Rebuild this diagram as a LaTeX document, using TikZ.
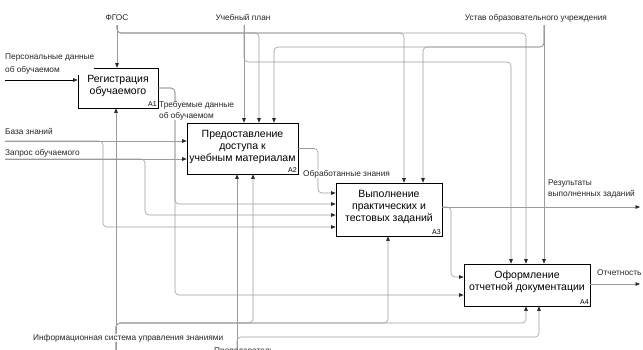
\documentclass[tikz,border=0pt]{standalone}
\usepackage{fontspec}
\setmainfont{Liberation Sans}
\usetikzlibrary{arrows.meta,calc}
\definecolor{lineg}{RGB}{155,155,155}
\definecolor{tipg}{RGB}{40,40,40}
\begin{document}
\begin{tikzpicture}[x=1pt,y=-1pt,
  box/.style={draw=black, line width=0.7pt, fill=white, inner sep=0pt},
  btext/.style={font=\fontsize{10.5}{12}\selectfont, align=center, inner sep=0pt},
  num/.style={font=\fontsize{7}{8}\selectfont, anchor=south east, inner sep=1.5pt},
  lab/.style={font=\fontsize{8.3}{10}\selectfont, inner sep=0pt, text=black!85, fill=white},
  flow/.style={draw=lineg, line width=0.6pt, rounded corners=4pt, -{Triangle[length=4.5pt,width=3.6pt,color=tipg]}},
  flowk/.style={flow, draw=black}]
\useasboundingbox (0,0) rectangle (643,349);
\clip (0,0) rectangle (643,349);

% boxes (positions)
\node[box, minimum width=80pt, minimum height=40pt] (A1) at (118,88) {};
\node[box, minimum width=111pt, minimum height=51pt] (A2) at (242.5,148.5) {};
\node[box, minimum width=106pt, minimum height=53pt] (A3) at (389,209.5) {};
\node[box, minimum width=126pt, minimum height=42pt] (A4) at (527,285) {};

% coordinates of free ends and bends
\coordinate (fgS) at (117,25);
\coordinate (g2) at (259,33);
\coordinate (g3) at (404,33);
\coordinate (g4) at (526,33);
\coordinate (upS) at (244,25);
\coordinate (p4) at (511,62);
\coordinate (usS) at (544,25);
\coordinate (u2) at (274,47);
\coordinate (u3) at (423,47);
\coordinate (pdS) at (5,80);
\coordinate (bzS) at (5,141);
\coordinate (bz3) at (103,227);
\coordinate (zpS) at (5,159);
\coordinate (zp3) at (145,215);
\coordinate (td3) at (175,204);
\coordinate (td4) at (175,295);
\coordinate (ob3) at (318,193);
\coordinate (resE) at (640,207);
\coordinate (r4) at (451,277);
\coordinate (otE) at (640,284);
\coordinate (isS) at (116,352);
\coordinate (m2) at (253,323);
\coordinate (m3) at (388,323);
\coordinate (m4) at (526,323);
\coordinate (pS) at (237,352);
\coordinate (n4) at (539,337);

% controls
\draw[flow] (fgS) -- (fgS |- A1.north);
\draw[flow] (fgS) |- (g2) -- (g2 |- A2.north);
\draw[flow] (fgS) |- (g3) -- (g3 |- A3.north);
\draw[flow] (fgS) |- (g4) -- (g4 |- A4.north);
\draw[flow] (upS) -- (upS |- A2.north);
\draw[flow] (upS) |- (p4) -- (p4 |- A4.north);
\draw[flow] (usS) -- (usS |- A4.north);
\draw[flow] (usS) |- (u2) -- (u2 |- A2.north);
\draw[flow] (usS) |- (u3) -- (u3 |- A3.north);

% inputs
\draw[flowk] (pdS) -- (pdS -| A1.west);
\draw[flow] (bzS) -- (bzS -| A2.west);
\draw[flow] (bzS) -| (bz3) -- (bz3 -| A3.west);
\draw[flow] (zpS) -- (zpS -| A2.west);
\draw[flow] (zpS) -| (zp3) -- (zp3 -| A3.west);

% outputs
\draw[flow] (A1.east) -| (td3) -- (td3 -| A3.west);
\draw[flow] (A1.east) -| (td4) -- (td4 -| A4.west);
\draw[flow] (A2.east) -| (ob3) -- (ob3 -| A3.west);
\draw[flow] (resE -| A3.east) -- (resE);
\draw[flow] (resE -| A3.east) -| (r4) -- (r4 -| A4.west);
\draw[flow] (otE -| A4.east) -- (otE);

% mechanisms
\draw[flow] (isS) -- (isS |- A1.south);
\draw[flow] (isS) |- (m2) -- (m2 |- A2.south);
\draw[flow] (isS) |- (m3) -- (m3 |- A3.south);
\draw[flow] (isS) |- (m4) -- (m4 |- A4.south);
\draw[flow] (pS) -- (pS |- A2.south);
\draw[flow] (pS) |- (n4) -- (n4 |- A4.south);

% labels
\node[lab, anchor=base] (fgos) at (117,20) {ФГОС};
\node[lab, anchor=base] (plan) at (243,20) {Учебный план};
\node[lab, anchor=base] (ustav) at (536,20) {Устав образовательного учреждения};
\node[lab, anchor=west, align=left, font=\fontsize{8.3}{13}\selectfont] (pers) at (5,64.5) {Персональные данные\\об обучаемом};
\node[lab, anchor=base west] (baza) at (5,134) {База знаний};
\node[lab, anchor=base west] (zapr) at (5,155) {Запрос обучаемого};
\node[lab, anchor=west, align=left, font=\fontsize{8.3}{11}\selectfont] (treb) at (159,110.5) {Требуемые данные\\об обучаемом};
\node[lab, anchor=base west] (obr) at (303,176) {Обработанные знания};
\node[lab, anchor=west, align=left, font=\fontsize{8.3}{11}\selectfont] (resl) at (548,189) {Результаты\\выполненных заданий};
\node[lab, anchor=base west] (otch) at (597,275) {Отчетность};
\node[lab, anchor=base west] (isuz) at (33,340) {Информационная система управления знаниями};
\node[lab, anchor=base west, fill=none] (prep) at (214,353.2) {Преподаватель};

% box texts
\node[btext] (A1t) at ([yshift=2pt]A1.center) {Регистрация\\обучаемого};
\node[btext] (A2t) at ([yshift=1.5pt]A2.center) {Предоставление\\доступа к\\учебным материалам};
\node[btext] (A3t) at ([yshift=2.5pt]A3.center) {Выполнение\\практических и\\тестовых заданий};
\node[btext] (A4t) at ([yshift=3pt]A4.center) {Оформление\\отчетной документации};
\node[num] (A1n) at (A1.south east) {A1};
\node[num] (A2n) at (A2.south east) {A2};
\node[num] (A3n) at (A3.south east) {A3};
\node[num] (A4n) at (A4.south east) {A4};
\end{tikzpicture}
\end{document}
